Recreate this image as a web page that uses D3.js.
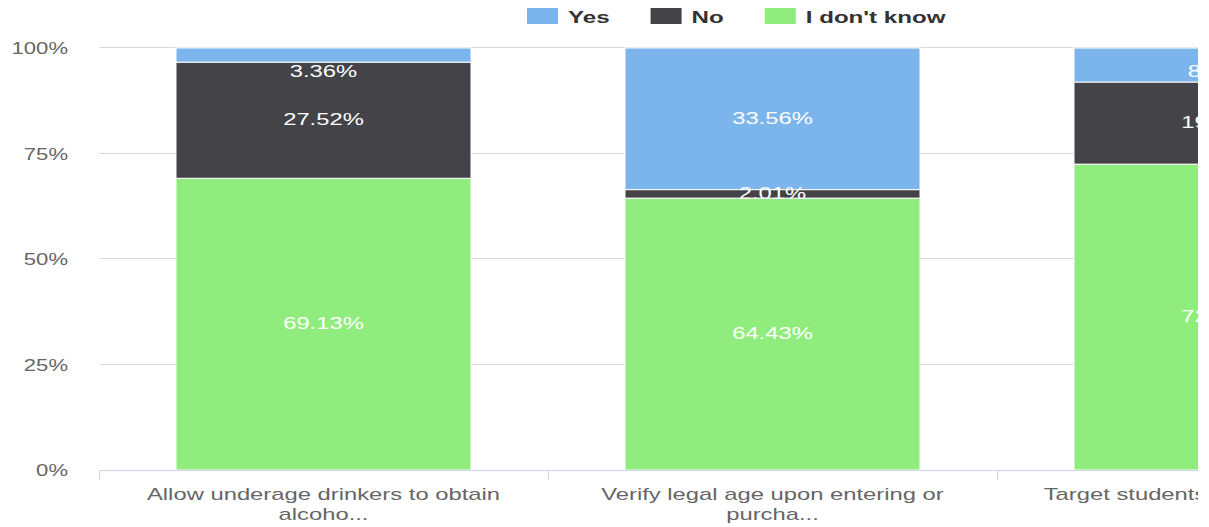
<!DOCTYPE html>
<html>
<head>
<meta charset="utf-8">
<script src="https://cdn.jsdelivr.net/npm/d3@7"></script>
<style>
  body { margin: 0; background: #fff; }
  svg { display: block; font-family: "Liberation Sans", Arial, sans-serif; }
</style>
</head>
<body>
<div id="chart"></div>
<script>
// chart data (percent of respondents)
var categories = [
    ["Allow underage drinkers to obtain", "alcoho..."],
    ["Verify legal age upon entering or", "purcha..."],
    ["Target students with drink promos"]
];
var seriesNames = ["Yes", "No", "I don't know"];
var yesValues = [3.36, 33.56, 8.05];
var noValues = [27.52, 2.01, 19.46];
var dontKnowValues = [69.13, 64.43, 72.48];
var yTicks = [0, 25, 50, 75, 100];

var colors = { "Yes": "#7cb5ec", "No": "#434348", "I don't know": "#90ed7d" };

var width = 1209, height = 527;
var plot = { left: 99, right: 1198, top: 48, bottom: 470 };
var SX = 1.4; // the screenshot is stretched sideways

var rows = categories.map(function (c, i) {
    return { cat: i, "Yes": yesValues[i], "No": noValues[i], "I don't know": dontKnowValues[i] };
});

var xScale = d3.scaleBand()
    .domain(d3.range(categories.length))
    .range([plot.left, plot.left + 449 * categories.length])
    .padding(0);
var barInset = 77;

var yScale = d3.scaleLinear().domain([0, 100]).range([plot.bottom, plot.top]);

var svg = d3.select("#chart").append("svg")
    .attr("width", width)
    .attr("height", height);

svg.append("clipPath").attr("id", "plotClip")
    .append("rect")
    .attr("x", 0).attr("y", 0)
    .attr("width", plot.right).attr("height", height);

var clipped = svg.append("g").attr("clip-path", "url(#plotClip)");

// grid lines
clipped.append("g").selectAll("line")
    .data(yTicks.filter(function (d) { return d > 0; }))
    .enter().append("line")
    .attr("x1", plot.left).attr("x2", plot.right)
    .attr("y1", function (d) { return Math.round(yScale(d)) - 0.5; })
    .attr("y2", function (d) { return Math.round(yScale(d)) - 0.5; })
    .attr("stroke", "#d8d8d8")
    .attr("stroke-width", 1);

// y axis labels
var yAxis = d3.axisLeft(yScale).tickValues(yTicks).tickSize(0).tickFormat(function (d) { return d + "%"; });
var yg = svg.append("g").attr("transform", "translate(" + plot.left + ",0)").call(yAxis);
yg.select(".domain").remove();
yg.selectAll("text")
    .attr("x", -31 / 1.38)
    .attr("dy", "0.36em")
    .attr("transform", "scale(1.38,1)")
    .attr("fill", "#666")
    .style("font-size", "16px")
    .style("font-family", "Liberation Sans, Arial, sans-serif");

// stacked bars
var stack = d3.stack().keys(["I don't know", "No", "Yes"]);
var layers = stack(rows);

var layerG = clipped.selectAll(".layer")
    .data(layers)
    .enter().append("g")
    .attr("class", "layer")
    .attr("fill", function (d) { return colors[d.key]; });

layerG.selectAll("rect")
    .data(function (d) { return d; })
    .enter().append("rect")
    .attr("x", function (d, i) { return xScale(i) + barInset; })
    .attr("width", xScale.bandwidth() - 2 * barInset)
    .attr("y", function (d) { return yScale(d[1]); })
    .attr("height", function (d) { return yScale(d[0]) - yScale(d[1]); })
    .attr("stroke", "#fff")
    .attr("stroke-width", 1);

// data labels
layers.forEach(function (layer) {
    layer.forEach(function (d, i) {
        var cy = (yScale(d[0]) + yScale(d[1])) / 2;
        cy = Math.max(cy, plot.top + 24);
        clipped.append("g")
            .attr("transform", "translate(" + (xScale(i) + xScale.bandwidth() / 2) + "," + (cy + 5) + ") scale(" + SX + ",1)")
            .append("text")
            .attr("text-anchor", "middle")
            .attr("fill", "#fff")
            .style("font-size", "17px")
            .text(d3.format(".2f")(d[1] - d[0]) + "%");
    });
});

// x axis
var xAxisG = clipped.append("g");
xAxisG.append("line")
    .attr("x1", plot.left).attr("x2", plot.right)
    .attr("y1", plot.bottom + 0.5).attr("y2", plot.bottom + 0.5)
    .attr("stroke", "#ccd6eb");
xAxisG.selectAll(".tick")
    .data(d3.range(categories.length + 1))
    .enter().append("line")
    .attr("x1", function (i) { return plot.left + i * xScale.bandwidth() + 0.5; })
    .attr("x2", function (i) { return plot.left + i * xScale.bandwidth() + 0.5; })
    .attr("y1", plot.bottom).attr("y2", plot.bottom + 10)
    .attr("stroke", "#ccd6eb");

categories.forEach(function (lines, i) {
    lines.forEach(function (line, j) {
        clipped.append("g")
            .attr("transform", "translate(" + (xScale(i) + xScale.bandwidth() / 2) + "," + (500 + j * 20) + ") scale(" + SX + ",1)")
            .append("text")
            .attr("text-anchor", "middle")
            .attr("fill", "#666")
            .style("font-size", "17px")
            .text(line);
    });
});

// legend
var legendX = 527;
seriesNames.forEach(function (name) {
    svg.append("rect")
        .attr("x", legendX).attr("y", 8)
        .attr("width", 31).attr("height", 16)
        .attr("fill", colors[name]);
    var t = svg.append("g")
        .attr("transform", "translate(" + (legendX + 41) + ",23) scale(1.42,1)")
        .append("text")
        .attr("fill", "#333")
        .style("font-size", "17px")
        .style("font-weight", "bold")
        .text(name);
    legendX += 41 + t.node().getComputedTextLength() * 1.42 + 41;
});
</script>
</body>
</html>
